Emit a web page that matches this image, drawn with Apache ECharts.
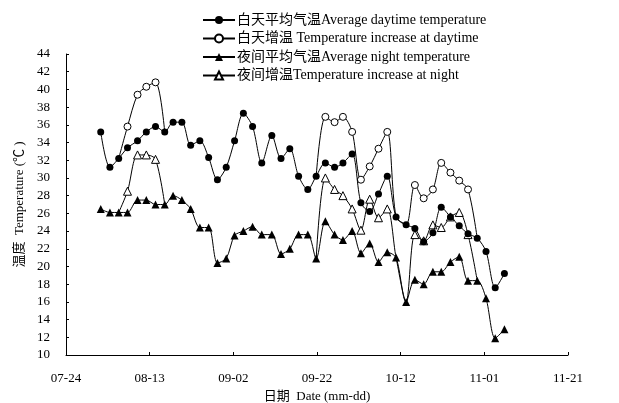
<!DOCTYPE html>
<html>
<head>
<meta charset="utf-8">
<script src="https://cdn.jsdelivr.net/npm/echarts@6/dist/echarts.min.js"></script>
<style>html,body{margin:0;padding:0;background:#fff;}#c{width:619px;height:403px;}</style>
</head>
<body>
<div id="c"></div>
<script>
// x = days after 07-24
const dayOffsets = [8.3,10.5,12.6,14.7,17.1,19.2,21.4,23.6,25.6,27.7,29.8,32.0,34.1,36.2,38.3,40.3,42.4,44.6,46.8,49.2,51.4,53.5,55.6,57.8,59.8,62.0,64.2,66.2,68.4,70.5,72.6,74.7,76.8,78.9,81.3,83.4,85.5,87.7,89.7,91.9,94.0,96.1,98.3,100.4,102.6,104.8];
const xTickLabels = ['07-24','08-13','09-02','09-22','10-12','11-01','11-21'];
const dayTemp = [35.2,31.2,32.2,33.4,34.2,35.2,35.8,35.2,36.3,36.3,33.7,34.2,32.3,29.8,31.2,34.2,37.3,35.8,31.7,34.8,32.2,33.3,30.2,28.7,30.2,31.7,31.2,31.7,32.7,27.2,26.2,28.2,30.2,25.6,24.7,24.3,22.8,23.8,26.7,25.6,24.6,23.7,23.2,21.7,17.6,19.2];
const dayIncrease = [null,null,null,35.8,39.4,40.3,40.8,null,null,null,null,null,null,null,null,null,null,null,null,null,null,null,null,null,null,36.9,36.3,36.9,35.2,29.8,31.3,33.3,35.2,null,null,29.2,27.7,28.7,31.7,30.6,29.7,28.7,null,null,null,null];
const nightTemp = [26.5,26.1,26.1,26.1,27.5,27.5,27.0,27.0,28.0,27.5,26.5,24.4,24.4,20.4,20.9,23.5,24.0,24.5,23.6,23.6,21.4,22.0,23.6,23.6,20.9,25.1,23.6,23.0,24.0,21.5,22.6,20.5,21.6,21.0,16.0,18.5,18.0,19.4,19.4,20.5,21.1,18.4,18.4,16.4,11.9,12.9];
const nightIncrease = [null,null,null,28.5,32.6,32.6,32.1,null,null,null,null,null,null,null,null,null,null,null,null,null,null,null,null,null,null,30.0,28.7,28.0,26.5,24.1,27.6,25.5,26.5,null,null,23.6,22.9,24.7,24.4,25.6,26.1,23.6,null,null,null,null];
const seriesNames = ['白天平均气温Average daytime temperature','白天增温 Temperature increase at daytime','夜间平均气温Average night temperature','夜间增温Temperature increase at night'];

function full(vals){ return vals.map((v,i)=>[dayOffsets[i], v]); }
function segment(inc, base){
  return inc.map((v,i)=>{
    if (v !== null) return [dayOffsets[i], v];
    const near = (i>0 && inc[i-1]!==null) || (i<inc.length-1 && inc[i+1]!==null);
    if (near) return {value:[dayOffsets[i], base[i]], symbol:'none'};
    return [dayOffsets[i], '-'];
  });
}
const font = '"Liberation Serif", "Times New Roman", "Noto Sans CJK SC", serif';
const chart = echarts.init(document.getElementById('c'), null, {renderer:'canvas'});
const lineStyle = {color:'#000', width:1};
chart.setOption({
  animation:false,
  backgroundColor:'#fff',
  textStyle:{fontFamily:font, color:'#000'},
  grid:{left:66, right:51, top:54, bottom:48, containLabel:false, outerBoundsMode:'none'},
  legend:{
    orient:'vertical', left:197, top:8, itemWidth:32, itemHeight:10, itemGap:4.5,
    textStyle:{fontFamily:font, fontSize:14, color:'#000', padding:[0,0,0,-3]},
    data:seriesNames
  },
  xAxis:{
    type:'value', min:0, max:120, interval:20,
    axisLine:{show:true, onZero:false, lineStyle:{color:'#000', width:1}},
    axisTick:{show:true, inside:true, length:3, lineStyle:{color:'#000'}},
    splitLine:{show:false},
    axisLabel:{color:'#000', fontFamily:font, fontSize:13, margin:17, formatter:(v)=>xTickLabels[Math.round(v/20)]},
    name:'日期  Date (mm-dd)', nameLocation:'middle', nameGap:34,
    nameTextStyle:{color:'#000', fontFamily:font, fontSize:13}
  },
  yAxis:{
    type:'value', min:10, max:44, interval:2,
    axisLine:{show:true, onZero:false, lineStyle:{color:'#000', width:1}},
    axisTick:{show:true, inside:true, length:3, lineStyle:{color:'#000'}},
    splitLine:{show:false},
    axisLabel:{color:'#000', fontFamily:font, fontSize:13, margin:16},
    name:'温度  Temperature (℃ )', nameLocation:'middle', nameGap:30,
    nameTextStyle:{color:'#000', fontFamily:font, fontSize:13}
  },
  series:[
    {name:seriesNames[0], type:'line', z:5, smooth:0.3, data:full(dayTemp), symbol:'circle', symbolSize:7,
     itemStyle:{color:'#000'}, lineStyle:lineStyle},
    {name:seriesNames[1], type:'line', z:3, smooth:0.3, data:segment(dayIncrease, dayTemp), symbol:'circle', symbolSize:7,
     itemStyle:{color:'#fff', borderColor:'#000', borderWidth:1}, lineStyle:lineStyle, connectNulls:false},
    {name:seriesNames[2], type:'line', z:4, smooth:0.3, data:full(nightTemp), symbol:'triangle', symbolSize:8,
     itemStyle:{color:'#000'}, lineStyle:lineStyle},
    {name:seriesNames[3], type:'line', z:2, smooth:0.3, data:segment(nightIncrease, nightTemp), symbol:'triangle', symbolSize:8,
     itemStyle:{color:'#fff', borderColor:'#000', borderWidth:1}, lineStyle:lineStyle, connectNulls:false}
  ]
});
</script>
</body>
</html>
